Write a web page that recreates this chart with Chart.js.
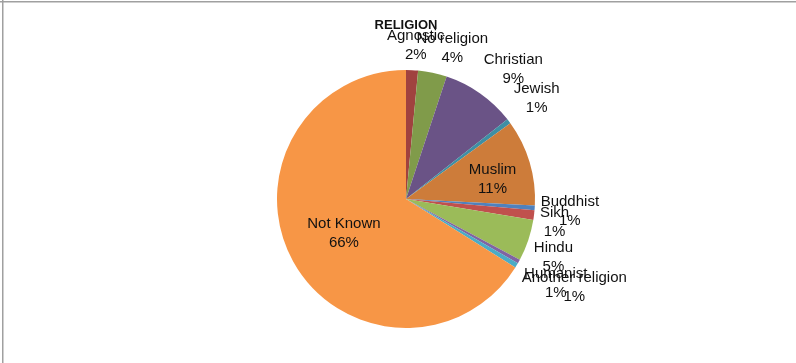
<!DOCTYPE html>
<html>
<head>
<meta charset="utf-8">
<script src="https://cdn.jsdelivr.net/npm/chart.js@4/dist/chart.umd.min.js"></script>
<style>
html,body{margin:0;padding:0;background:#fff;}
#wrap{width:796px;height:363px;position:relative;}
</style>
</head>
<body>
<div id="wrap"><canvas id="c" width="796" height="363"></canvas></div>
<script>
const title = "RELIGION";
const categories = ["Agnostic","No religion","Christian","Jewish","Muslim","Buddhist","Sikh","Hindu","Humanist","Another religion","Not Known"];
const values = [1.5, 3.6, 9.3, 0.6, 10.8, 0.6, 1.2, 5.2, 0.5, 0.6, 66.1];

const colors = ["#A0423F","#809B4A","#6A5386","#3E8FA4","#CD7C3A","#4F81BD","#C0504D","#9BBB59","#8064A2","#4BACC6","#F79646"];
const FONT = "15px 'Liberation Sans', Arial, sans-serif";

const labelPlugin = {
  id: 'labels',
  beforeDraw(chart){
    const ctx = chart.ctx;
    ctx.save();
    ctx.fillStyle = '#fff';
    ctx.fillRect(0,0,chart.width,chart.height);
    ctx.strokeStyle = '#a0a0a0';
    ctx.lineWidth = 1.5;
    ctx.beginPath();
    ctx.moveTo(0,1.75); ctx.lineTo(chart.width,1.75);
    ctx.moveTo(2.75,0); ctx.lineTo(2.75,chart.height);
    ctx.stroke();
    ctx.restore();
  },
  afterDatasetsDraw(chart){
    const ctx = chart.ctx;
    const meta = chart.getDatasetMeta(0);
    const data = chart.data.datasets[0].data;
    const total = data.reduce((a,b)=>a+b,0);
    ctx.save();
    ctx.font = FONT;
    ctx.fillStyle = '#111';
    ctx.textAlign = 'center';
    ctx.textBaseline = 'middle';
    const lh = 19;
    meta.data.forEach((arc, i) => {
      const p = arc.getProps(['x','y','startAngle','endAngle','outerRadius'], true);
      const mid = (p.startAngle + p.endAngle)/2;
      const dx = Math.cos(mid), dy = Math.sin(mid);
      const name = chart.data.labels[i];
      const pct = Math.round(data[i]/total*100) + '%';
      const w = Math.max(ctx.measureText(name).width, ctx.measureText(pct).width);
      const h = lh*2;
      let cx, cy;
      if (data[i] > 10) {
        const f = data[i] > 50 ? 0.55 : 0.7;
        cx = p.x + dx*p.outerRadius*f;
        cy = p.y + dy*p.outerRadius*f + (data[i] > 50 ? 0 : 6);
      } else {
        const R = p.outerRadius + 6;
        const clamp = v => Math.max(-1, Math.min(1, v));
        cx = p.x + dx*R + clamp(dx*2.5)*w/2;
        cy = p.y + dy*R + clamp(dy*2.5)*h/2;
      }
      ctx.fillText(name, cx, cy - lh/2);
      ctx.fillText(pct, cx, cy + lh/2);
    });
    // title
    ctx.font = "bold 13px 'Liberation Sans', Arial, sans-serif";
    ctx.fillText(title, meta.data[0].x, 25);
    ctx.restore();
  }
};

new Chart(document.getElementById('c'), {
  type: 'pie',
  data: {
    labels: categories,
    datasets: [{
      data: values,
      backgroundColor: colors,
      borderWidth: 0
    }]
  },
  options: {
    responsive: false,
    animation: false,
    layout: { padding: { top: 70, bottom: 35, left: 208, right: 192 } },
    plugins: { legend: { display: false }, title: { display: false }, tooltip: { enabled: false } }
  },
  plugins: [labelPlugin]
});
</script>
</body>
</html>
